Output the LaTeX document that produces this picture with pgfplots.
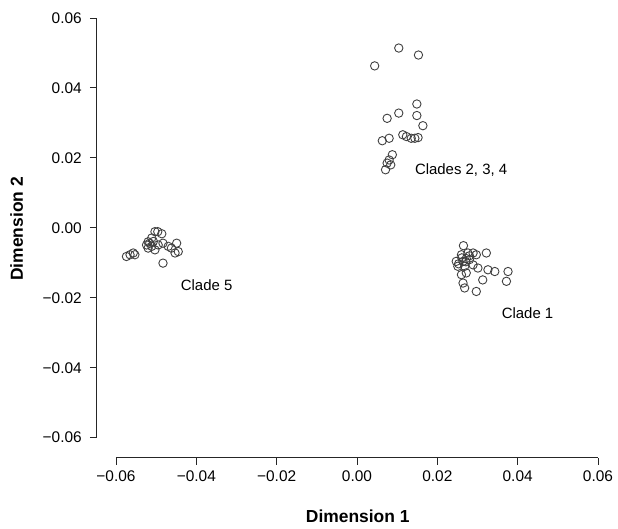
\documentclass[border=0pt]{standalone}
\usepackage{pgfplots}
\pgfplotsset{compat=1.18}
\usepackage{fontspec}
\setmainfont{Liberation Sans}
\begin{document}
\fontsize{15}{18}\selectfont
\begin{tikzpicture}
\begin{axis}[
  name=main,
  scale only axis,
  width=521bp, height=458bp,
  xmin=-0.06475, xmax=0.06485,
  ymin=-0.06571, ymax=0.06514,
  scaled ticks=false,
  axis line style={draw=none},
  tick pos=left,
  tick align=outside,
  major tick length=7bp,
  tick style={black!85, line width=0.9pt},
  xtick={-0.06,-0.04,-0.02,0,0.02,0.04,0.06},
  ytick={-0.06,-0.04,-0.02,0,0.02,0.04,0.06},
  xticklabels={−0.06,−0.04,−0.02,0.00,0.02,0.04,0.06},
  yticklabels={−0.06,−0.04,−0.02,0.00,0.02,0.04,0.06},
  ticklabel style={font=\fontsize{15.5}{18}\selectfont},
  xticklabel style={yshift=-1bp},
  yticklabel style={xshift=-3bp},
  xlabel={\textbf{Dimension 1}},
  ylabel={\textbf{Dimension 2}},
  label style={font=\fontsize{17.5}{20}\selectfont},
  xlabel style={at={(axis description cs:0.501,-0.1288)}, anchor=center},
  ylabel style={at={(axis description cs:-0.154,0.5)}, anchor=center},
  clip=false,
]
\draw[line width=0.9pt, black!85] (axis cs:-0.06,-0.06571) -- (axis cs:0.06,-0.06571);
\draw[line width=0.9pt, black!85] (axis cs:-0.06475,-0.06) -- (axis cs:-0.06475,0.06);
\addplot[only marks, mark=o, mark size=4.2bp, mark options={draw=black!75, line width=0.9pt}] coordinates {
% Clades 2,3,4
(0.0044,0.0463) (0.0104,0.0514) (0.0153,0.0494)
(0.0149,0.0354) (0.0149,0.0321) (0.0164,0.0292) (0.0104,0.0328) (0.0075,0.0313)
(0.0063,0.0249) (0.0080,0.0256) (0.0114,0.0266) (0.0123,0.0261) (0.0135,0.0256)
(0.0144,0.0256) (0.0152,0.0258) (0.0088,0.0209) (0.0080,0.0194) (0.0075,0.0185)
(0.0084,0.0180) (0.0071,0.0166)
% Clade 1
(0.0265,-0.0051) (0.0276,-0.0072) (0.0260,-0.0077) (0.0289,-0.0072) (0.0297,-0.0077)
(0.0322,-0.0072) (0.0247,-0.0096) (0.0264,-0.0096) (0.0280,-0.0091) (0.0251,-0.0110)
(0.0268,-0.0110) (0.0289,-0.0106) (0.0301,-0.0115) (0.0326,-0.0120) (0.0343,-0.0125)
(0.0376,-0.0125) (0.0260,-0.0134) (0.0272,-0.0129) (0.0313,-0.0149) (0.0372,-0.0153)
(0.0264,-0.0158) (0.0268,-0.0172) (0.0297,-0.0182)
(0.0261,-0.0086) (0.0271,-0.0097) (0.0253,-0.0103) (0.0280,-0.0080) (0.0272,-0.0088)
% Clade 5
(-0.0574,-0.0082) (-0.0565,-0.0077) (-0.0557,-0.0072) (-0.0553,-0.0077)
(-0.0524,-0.0049) (-0.0516,-0.0044) (-0.0511,-0.0053) (-0.0520,-0.0058)
(-0.0507,-0.0039) (-0.0495,-0.0049) (-0.0483,-0.0044) (-0.0470,-0.0053)
(-0.0462,-0.0058) (-0.0449,-0.0044) (-0.0445,-0.0068) (-0.0453,-0.0072)
(-0.0483,-0.0101) (-0.0503,-0.0063)
(-0.0503,-0.0011) (-0.0496,-0.0011) (-0.0486,-0.0017) (-0.0511,-0.0029) (-0.0520,-0.0040)
};
\node[anchor=west, inner sep=0pt, font=\fontsize{15}{18}\selectfont] at (axis cs:0.0144,0.0166) {Clades 2, 3, 4};
\node[anchor=west, inner sep=0pt, font=\fontsize{15}{18}\selectfont] at (axis cs:0.0360,-0.0243) {Clade 1};
\node[anchor=west, inner sep=0pt, font=\fontsize{15}{18}\selectfont] at (axis cs:-0.0439,-0.0163) {Clade 5};
\end{axis}
\path ([xshift=-97bp,yshift=-71bp]main.south west);
\end{tikzpicture}
\end{document}
